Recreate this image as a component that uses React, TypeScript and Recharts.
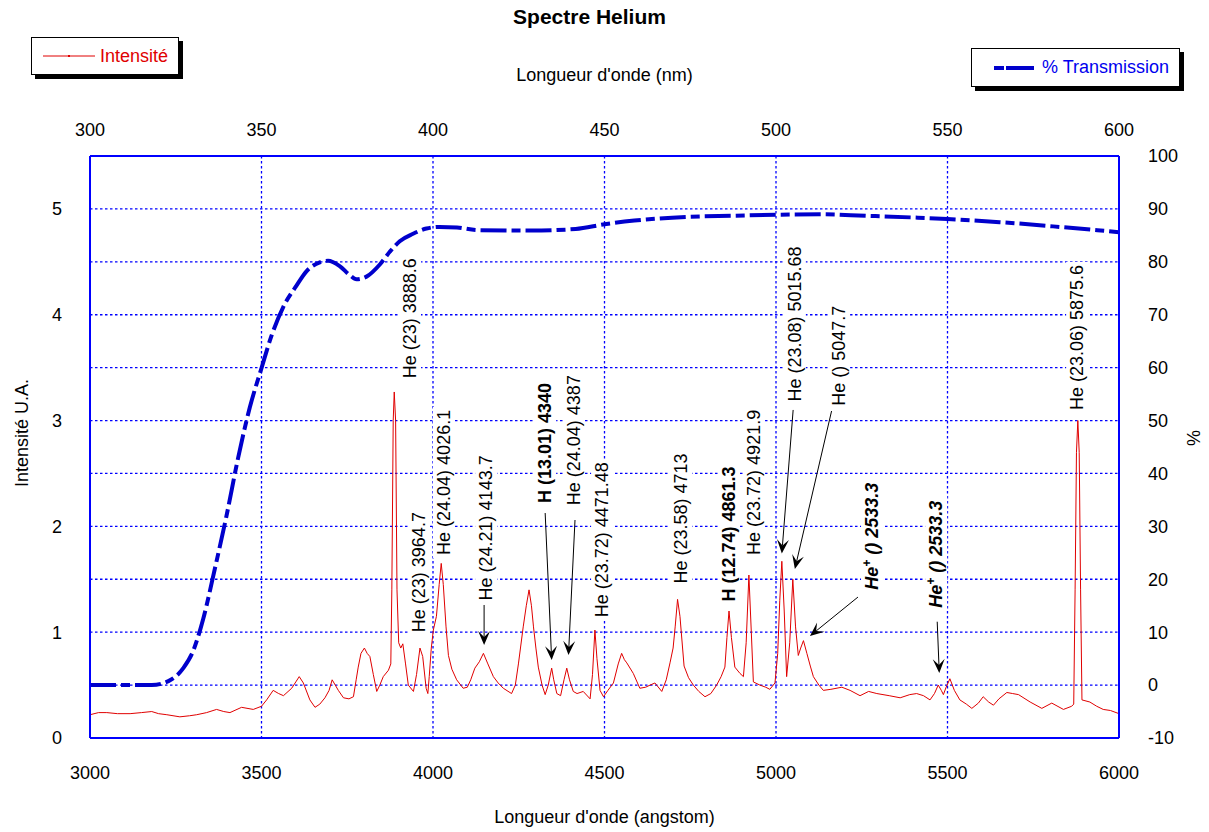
import React from "react";
import {
  ComposedChart,
  Line,
  XAxis,
  YAxis,
  CartesianGrid,
  ReferenceDot,
  ReferenceLine,
  Label,
} from "recharts";

const FONT = "'Liberation Sans', Arial, sans-serif";
const GRID_BLUE = "#0000ff";
const LINE_BLUE = "#0000cc";
const RED = "#e00000";

// axis ticks
const angstromTicks = [3000, 3500, 4000, 4500, 5000, 5500, 6000];
const nmTicks = [300, 350, 400, 450, 500, 550, 600];
const intensityTicks = [0, 1, 2, 3, 4, 5];
const percentTicks = [-10, 0, 10, 20, 30, 40, 50, 60, 70, 80, 90, 100];

// helium spectrum (angstrom / arbitrary units)
const spectrumWavelength = [
  3000, 3025, 3049, 3080, 3117, 3150, 3180, 3200, 3224, 3262, 3290, 3311, 3340,
  3369, 3390, 3408, 3442, 3476, 3500, 3515, 3534, 3550, 3564, 3588, 3600, 3610,
  3622, 3641, 3656, 3670, 3685, 3697, 3706, 3715, 3724, 3739, 3755, 3768, 3776,
  3782, 3790, 3800, 3808, 3816, 3826, 3836, 3845, 3855, 3870, 3877, 3880, 3884,
  3887, 3891, 3895, 3900, 3906, 3912, 3920, 3928, 3943, 3952, 3962, 3970, 3980,
  3985, 3989, 3995, 4001, 4010, 4018, 4024, 4030, 4038, 4045, 4055, 4069, 4088,
  4100, 4110, 4122, 4135, 4147, 4160, 4176, 4190, 4205, 4229, 4240, 4249, 4263,
  4272, 4280, 4287, 4293, 4300, 4307, 4318, 4327, 4336, 4346, 4352, 4361, 4372,
  4382, 4390, 4398, 4409, 4420, 4438, 4458, 4465, 4472, 4478, 4487, 4497, 4510,
  4526, 4540, 4550, 4558, 4565, 4584, 4603, 4620, 4633, 4647, 4667, 4680, 4691,
  4700, 4706, 4713, 4720, 4732, 4745, 4759, 4775, 4793, 4810, 4827, 4840, 4851,
  4857, 4863, 4870, 4880, 4895, 4905, 4913, 4921, 4928, 4934, 4953, 4970, 4982,
  4997, 5005, 5011, 5017, 5024, 5031, 5040, 5049, 5057, 5065, 5072, 5080, 5090,
  5100, 5109, 5125, 5138, 5160, 5192, 5216, 5245, 5270, 5294, 5330, 5362, 5390,
  5410, 5430, 5449, 5462, 5473, 5482, 5488, 5496, 5507, 5520, 5536, 5555, 5571,
  5590, 5604, 5620, 5634, 5650, 5673, 5690, 5707, 5741, 5775, 5804, 5838, 5862,
  5868, 5872, 5876, 5880, 5884, 5888, 5892, 5915, 5935, 5954, 5975, 6000,
];
const spectrumIntensity = [
  0.22, 0.24, 0.24, 0.23, 0.23, 0.24, 0.25, 0.23, 0.22, 0.2, 0.21, 0.22, 0.24,
  0.27, 0.25, 0.24, 0.29, 0.27, 0.3, 0.36, 0.45, 0.42, 0.4, 0.47, 0.53, 0.58,
  0.52, 0.36, 0.29, 0.32, 0.38, 0.45, 0.55, 0.5, 0.45, 0.38, 0.37, 0.39, 0.55,
  0.67, 0.8, 0.85, 0.8, 0.77, 0.6, 0.44, 0.5, 0.58, 0.64, 0.7, 1.4, 3.0,
  3.27, 3.0, 1.4, 0.9, 0.85, 0.89, 0.7, 0.5, 0.44, 0.6, 0.85, 0.77, 0.47,
  0.42, 0.58, 0.85, 1.02, 1.15, 1.45, 1.65, 1.45, 1.05, 0.78, 0.65, 0.55, 0.47,
  0.48, 0.55, 0.66, 0.72, 0.8, 0.7, 0.58, 0.52, 0.47, 0.42, 0.5, 0.7, 1.05,
  1.25, 1.4, 1.25, 1.05, 0.85, 0.67, 0.5, 0.41, 0.5, 0.66, 0.55, 0.42, 0.4,
  0.55, 0.66, 0.55, 0.44, 0.42, 0.44, 0.37, 0.6, 1.02, 0.75, 0.45, 0.39, 0.45,
  0.52, 0.7, 0.8, 0.74, 0.71, 0.61, 0.47, 0.48, 0.5, 0.52, 0.44, 0.55, 0.71,
  0.85, 1.05, 1.31, 1.15, 0.68, 0.57, 0.5, 0.44, 0.39, 0.42, 0.5, 0.58, 0.67,
  0.95, 1.2, 0.95, 0.67, 0.61, 0.58, 0.9, 1.54, 1.0, 0.53, 0.5, 0.48, 0.46,
  0.52, 0.8, 1.3, 1.67, 1.2, 0.58, 0.9, 1.5, 1.05, 0.78, 0.85, 0.92, 0.8,
  0.68, 0.58, 0.5, 0.45, 0.46, 0.48, 0.45, 0.4, 0.44, 0.42, 0.4, 0.38, 0.41,
  0.42, 0.4, 0.36, 0.42, 0.5, 0.45, 0.41, 0.48, 0.56, 0.45, 0.36, 0.32, 0.28,
  0.33, 0.39, 0.34, 0.31, 0.37, 0.43, 0.42, 0.41, 0.34, 0.28, 0.33, 0.27, 0.3,
  0.32, 1.4, 2.7, 3.0, 2.7, 1.4, 0.36, 0.34, 0.3, 0.27, 0.26, 0.23,
];

// filter transmission (nm / %)
const transmissionNm = [
  300, 310, 318, 323, 327.2, 330.1, 333, 336.4, 339.8, 343.2, 346.6, 350,
  352.9, 356.3, 360.2, 363.1, 367, 369.4, 372.8, 375.7, 377.7, 380.6, 384.5,
  387.4, 390.3, 394.2, 398.1, 401.9, 407, 413, 428.6, 441.6, 450, 458.7, 474.3,
  487.3, 500, 513.2, 526.2, 539.2, 550, 565.2, 580.8, 600,
];
const transmissionPct = [
  0, 0, 0, 0.8, 3.2, 6.5, 12.5, 22, 32, 43, 52.5, 59.9, 66, 71.4, 75.5,
  78.2, 79.9, 80.2, 79.2, 77.5, 76.7, 77.2, 79.5, 81.9, 83.9, 85.3, 86.3, 86.6,
  86.5, 86.0, 85.9, 86.2, 87.1, 87.8, 88.5, 88.7, 88.9, 89.0, 88.7, 88.4, 88.1,
  87.5, 86.7, 85.6,
];

// line annotations: text, anchor (bottom of the rotated text), style
const lineLabels = [
  "He (23) 3888.6",
  "He (23) 3964.7",
  "He (24.04) 4026.1",
  "He (24.21) 4143.7",
  "H (13.01) 4340",
  "He (24.04) 4387",
  "He (23.72) 4471.48",
  "He (23.58) 4713",
  "H (12.74) 4861.3",
  "He (23.72) 4921.9",
  "He (23.08) 5015.68",
  "He () 5047.7",
  "He+ () 2533.3",
  "He+ () 2533.3",
  "He (23.06) 5875.6",
];
const labelWavelength = [
  3933, 3959, 4032, 4155, 4327, 4411, 4493, 4723, 4863, 4936, 5055, 5184, 5280,
  5467, 5878,
];
const labelIntensity = [
  3.4, 1.0, 1.73, 1.3, 2.22, 2.2, 1.14, 1.46, 1.29, 1.73, 3.18, 3.14, 1.4, 1.23,
  3.1,
];
const labelBold = [
  false, false, false, false, true, false, false, false, true, false, false,
  false, true, true, false,
];

// arrows from a label to its peak
const arrowFromA = [4149, 4327, 4414, 5050, 5162, 5239, 5470];
const arrowFromI = [1.257, 2.126, 2.06, 3.1, 3.09, 1.332, 1.099];
const arrowToA = [4149, 4346, 4395, 5017, 5055, 5099, 5476];
const arrowToI = [0.879, 0.737, 0.784, 1.744, 1.597, 0.964, 0.614];

const spectrumData = spectrumWavelength.map((a, i) => ({
  a,
  i: spectrumIntensity[i],
}));
const transmissionData = transmissionNm.map((nm, i) => ({
  nm,
  pct: transmissionPct[i],
}));

const charWidth: Record<string, number> = {
  H: 0.722,
  e: 0.556,
  " ": 0.278,
  "(": 0.333,
  ")": 0.333,
  ".": 0.278,
  "+": 0.35,
};

function textWidth(text: string, size: number, bold: boolean) {
  let w = 0;
  for (const c of text) w += charWidth[c] ?? 0.556;
  return w * size * (bold ? 1.04 : 1);
}

function LineLabel(props: any) {
  const { cx, cy, text, bold } = props;
  const fs = 18;
  const ion = text.startsWith("He+");
  const w = textWidth(text, fs, bold);
  return (
    <g transform={`translate(${cx},${cy}) rotate(-90)`}>
      <rect x={-3} y={-11} width={w + 6} height={22} fill="#fff" />
      <text
        x={0}
        y={0}
        dy="0.35em"
        fontSize={fs}
        fontFamily={FONT}
        fontWeight={bold ? 700 : 400}
        fontStyle={ion ? "italic" : "normal"}
        fill="#000"
      >
        {ion ? (
          <>
            <tspan>He</tspan>
            <tspan dy={-7} fontSize={12}>
              +
            </tspan>
            <tspan dy={7}>{text.slice(3)}</tspan>
          </>
        ) : (
          text
        )}
      </text>
    </g>
  );
}

function Arrow(props: any) {
  const { x1, y1, x2, y2 } = props;
  if ([x1, y1, x2, y2].some((v) => v == null || isNaN(v))) return null;
  const len = Math.hypot(x2 - x1, y2 - y1) || 1;
  const ux = (x2 - x1) / len;
  const uy = (y2 - y1) / len;
  const nx = -uy;
  const ny = ux;
  const L = 14;
  const W = 6;
  const notch = 8;
  const pts = [
    [x2, y2],
    [x2 - L * ux + W * nx, y2 - L * uy + W * ny],
    [x2 - notch * ux, y2 - notch * uy],
    [x2 - L * ux - W * nx, y2 - L * uy - W * ny],
  ];
  return (
    <g>
      <line
        x1={x1}
        y1={y1}
        x2={x2 - notch * ux}
        y2={y2 - notch * uy}
        stroke="#000"
        strokeWidth={1}
      />
      <polygon points={pts.map((p) => p.join(",")).join(" ")} fill="#000" />
    </g>
  );
}

const legendBox: React.CSSProperties = {
  position: "absolute",
  background: "#fff",
  border: "1.5px solid #000",
  boxShadow: "4px 4px 0 #000",
  display: "flex",
  alignItems: "center",
  fontFamily: FONT,
  fontSize: 18,
  boxSizing: "border-box",
};

const App: React.FC = () => {
  return (
    <div
      style={{
        position: "absolute",
        left: 0,
        top: 0,
        width: 1209,
        height: 832,
        background: "#fff",
        fontFamily: FONT,
      }}
    >
      <div
        style={{
          position: "absolute",
          left: 0,
          width: 1179,
          top: 5,
          textAlign: "center",
          fontWeight: 700,
          fontSize: 21,
        }}
      >
        Spectre Helium
      </div>

      <div style={{ ...legendBox, left: 31, top: 37, width: 148, height: 38 }}>
        <svg width={62} height={10} style={{ marginLeft: 10 }}>
          <line x1={1} y1={5} x2={53} y2={5} stroke={RED} strokeWidth={1} />
          <rect x={26} y={4} width={2} height={2} fill={RED} />
        </svg>
        <span style={{ color: RED, marginLeft: -4 }}>Intensité</span>
      </div>

      <div style={{ ...legendBox, left: 971, top: 48, width: 209, height: 39 }}>
        <svg width={48} height={10} style={{ marginLeft: 21 }}>
          <line
            x1={1}
            y1={5}
            x2={41}
            y2={5}
            stroke={LINE_BLUE}
            strokeWidth={4}
            strokeDasharray="10 2 28 2"
          />
        </svg>
        <span style={{ color: "#0000ee", marginLeft: 1 }}>% Transmission</span>
      </div>

      <ComposedChart
        width={1209}
        height={832}
        margin={{ top: 116, right: 40, bottom: 54, left: 40 }}
        style={{ fontFamily: FONT }}
      >
        <CartesianGrid
          xAxisId="a"
          yAxisId="right"
          stroke={GRID_BLUE}
          strokeWidth={1.3}
          strokeDasharray="2.5 2.5"
        />
        <XAxis
          xAxisId="a"
          dataKey="a"
          type="number"
          domain={[3000, 6000]}
          ticks={angstromTicks}
          allowDataOverflow
          orientation="bottom"
          height={40}
          axisLine={{ stroke: GRID_BLUE, strokeWidth: 2 }}
          tickLine={false}
          tickSize={6}
          tickMargin={22}
          tick={{ fill: "#000", fontSize: 18 }}
        >
          <Label
            value="Longueur d'onde (angstom)"
            position="bottom"
            offset={32}
            fill="#000"
            fontSize={18}
          />
        </XAxis>
        <XAxis
          xAxisId="nm"
          dataKey="nm"
          type="number"
          domain={[300, 600]}
          ticks={nmTicks}
          allowDataOverflow
          orientation="top"
          height={40}
          axisLine={{ stroke: GRID_BLUE, strokeWidth: 2 }}
          tickLine={false}
          tickSize={6}
          tickMargin={14}
          tick={{ fill: "#000", fontSize: 18 }}
        >
          <Label
            value="Longueur d'onde (nm)"
            position="top"
            offset={35}
            fill="#000"
            fontSize={18}
          />
        </XAxis>
        <YAxis
          yAxisId="left"
          orientation="left"
          width={50}
          domain={[0, 5.5]}
          ticks={intensityTicks}
          allowDataOverflow
          axisLine={{ stroke: GRID_BLUE, strokeWidth: 2 }}
          tickLine={false}
          tickSize={6}
          tickMargin={22}
          tick={{ fill: "#000", fontSize: 18 }}
        >
          <Label
            content={(p: any) => {
              const vb = p.viewBox || {};
              const x = (vb.x ?? 40) - 18;
              const y = (vb.y ?? 156) + (vb.height ?? 582) / 2 - 14;
              return (
                <text
                  x={x}
                  y={y}
                  transform={`rotate(-90, ${x}, ${y})`}
                  textAnchor="middle"
                  dominantBaseline="central"
                  fontSize={18}
                  fontFamily={FONT}
                  fill="#000"
                >
                  Intensité U.A.
                </text>
              );
            }}
          />
        </YAxis>
        <YAxis
          yAxisId="right"
          orientation="right"
          width={50}
          domain={[-10, 100]}
          ticks={percentTicks}
          allowDataOverflow
          axisLine={{ stroke: GRID_BLUE, strokeWidth: 2 }}
          tickLine={false}
          tickSize={6}
          tickMargin={23}
          tick={{ fill: "#000", fontSize: 18 }}
        >
          <Label
            content={(p: any) => {
              const vb = p.viewBox || {};
              const x = (vb.x ?? 1119) + (vb.width ?? 50) + 25;
              const y = (vb.y ?? 156) + (vb.height ?? 582) / 2 - 9;
              return (
                <text
                  x={x}
                  y={y}
                  transform={`rotate(-90, ${x}, ${y})`}
                  textAnchor="middle"
                  dominantBaseline="central"
                  fontSize={18}
                  fontFamily={FONT}
                  fill="#000"
                >
                  %
                </text>
              );
            }}
          />
        </YAxis>

        <Line
          xAxisId="nm"
          yAxisId="right"
          data={transmissionData}
          dataKey="pct"
          type="monotone"
          stroke={LINE_BLUE}
          strokeWidth={4}
          strokeDasharray="26 5 9 5"
          dot={false}
          activeDot={false}
          isAnimationActive={false}
        />
        <Line
          xAxisId="a"
          yAxisId="left"
          data={spectrumData}
          dataKey="i"
          type="linear"
          stroke={RED}
          strokeWidth={1}
          dot={false}
          activeDot={false}
          isAnimationActive={false}
        />

        {lineLabels.map((text, k) => (
          <ReferenceDot
            key={`lbl-${k}`}
            xAxisId="a"
            yAxisId="left"
            x={labelWavelength[k]}
            y={labelIntensity[k]}
            r={0}
            shape={(p: any) => (
              <LineLabel cx={p.cx} cy={p.cy} text={text} bold={labelBold[k]} />
            )}
          />
        ))}

        {arrowFromA.map((a, k) => (
          <ReferenceLine
            key={`arr-${k}`}
            xAxisId="a"
            yAxisId="left"
            segment={[
              { x: a, y: arrowFromI[k] },
              { x: arrowToA[k], y: arrowToI[k] },
            ]}
            shape={(p: any) => <Arrow {...p} />}
          />
        ))}
      </ComposedChart>
    </div>
  );
};

export default App;
